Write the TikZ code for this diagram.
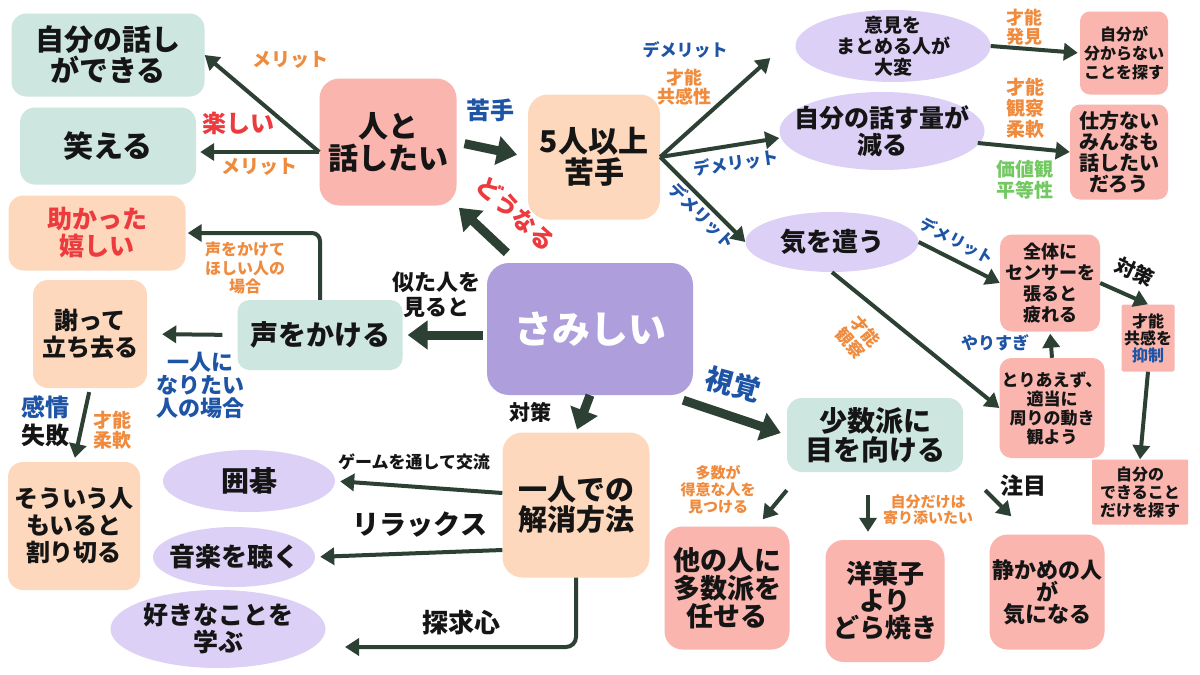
\documentclass[tikz,border=0pt]{standalone}
\usepackage{fontspec}
\setmainfont{Noto Sans CJK JP}
\usetikzlibrary{arrows.meta,shapes.geometric}

\definecolor{mintbg}{HTML}{CDE6DF}
\definecolor{peachbg}{HTML}{FDD8BC}
\definecolor{rosebg}{HTML}{F9B5AE}
\definecolor{lilacbg}{HTML}{DDD0F6}
\definecolor{centerbg}{HTML}{AE9FDC}
\definecolor{arrowc}{HTML}{2D4034}
\definecolor{orangec}{HTML}{F08A3C}
\definecolor{bluec}{HTML}{1E54A6}
\definecolor{redc}{HTML}{EC3A3E}
\definecolor{greenc}{HTML}{72C861}
\definecolor{inkc}{HTML}{151515}

\tikzset{
  fs/.style 2 args={font=\bfseries\fontsize{#1}{#2}\selectfont},
  tile/.style={rounded corners=15pt, align=center, inner sep=0pt, text=inkc},
  mint/.style={tile, fill=mintbg},
  peach/.style={tile, fill=peachbg},
  rose/.style={tile, fill=rosebg},
  lilac/.style={ellipse, fill=lilacbg, align=center, inner sep=0pt, text=inkc},
  lbl/.style={align=center, inner sep=0pt, text=inkc},
  conn/.style={draw=arrowc, line width=4pt, -{Triangle[length=14pt,width=17pt]}},
  bigconn/.style={draw=arrowc, line width=9pt, -{Triangle[length=20pt,width=28pt]}},
}

\begin{document}
\begin{tikzpicture}[x=1pt, y=-1pt]

\fill[white] (0,0) rectangle (1200,675);
\useasboundingbox (0,0) rectangle (1200,675);

\node [mint, fs={29}{31}, minimum width=193pt, minimum height=83pt] (jibun) at (108,55) {自分の話し\\ができる};
\node [mint, fs={30}{32}, minimum width=176pt, minimum height=77pt] (warau) at (108,146) {笑える};
\node [peach, fs={25}{27}, text=redc, minimum width=177pt, minimum height=75pt] (tasuka) at (97,233) {助かった\\嬉しい};
\node [peach, fs={24}{27}, minimum width=114pt, minimum height=108pt] (ayama) at (90,334) {謝って\\立ち去る};
\node [peach, fs={24}{27}, minimum width=132pt, minimum height=128pt] (souiu) at (74,526) {そういう人\\もいると\\割り切る};
\node [rose, fs={30}{32}, minimum width=137pt, minimum height=127pt, rounded corners=20pt] (hito) at (388,142) {人と\\話したい};
\node [peach, fs={30}{31}, minimum width=132pt, minimum height=125pt, rounded corners=20pt] (goninn) at (594,157) {5人以上\\苦手};

\node [lilac, fs={19}{21}, minimum width=195pt, minimum height=72pt, inner ysep=-6pt] (iken) at (893,46) {意見を\\まとめる人が\\大変};
\node [lilac, fs={25}{27}, minimum width=205pt, minimum height=78pt, inner xsep=-15pt] (ryou) at (882,131) {自分の話す量が\\減る};
\node [lilac, fs={26}{28}, minimum width=173pt, minimum height=60pt] (kizuka) at (832,242) {気を遣う};

\node [rose, fs={16}{19}, minimum width=88pt, minimum height=83pt, rounded corners=10pt] (jibuna) at (1124,53) {自分が\\分からない\\ことを探す};
\node [rose, fs={20}{21}, minimum width=98pt, minimum height=95pt, rounded corners=10pt] (shikata) at (1119,152) {仕方ない\\みんなも\\話したい\\だろう};
\node [rose, fs={18}{21}, minimum width=100pt, minimum height=97pt, rounded corners=12pt] (zentai) at (1050,283) {全体に\\センサーを\\張ると\\疲れる};
\node [rose, fs={16}{17}, minimum width=53pt, minimum height=67pt, rounded corners=2pt] (yokusei) at (1148,338) {才能\\共感を\\\textcolor{bluec}{抑制}};
\node [rose, fs={17}{19}, minimum width=105pt, minimum height=100pt, rounded corners=12pt] (toriaezu) at (1052,408) {とりあえず、\\適当に\\周りの動き\\観よう};
\node [rose, fs={16}{18}, minimum width=96pt, minimum height=65pt, rounded corners=1pt] (dekiru) at (1140,492) {自分の\\できること\\だけを探す};

\node [fill=centerbg, rounded corners=22pt, minimum width=206pt, minimum height=132pt, text=white, font=\bfseries\fontsize{38}{40}\selectfont] (samishii) at (590,329) {さみしい};
\node [mint, fs={28}{30}, minimum width=165pt, minimum height=70pt, rounded corners=12pt] (koe) at (320,335) {声をかける};
\node [mint, fs={28}{29}, minimum width=176pt, minimum height=74pt] (shousu) at (875,435) {少数派に\\目を向ける};
\node [peach, fs={29}{30}, minimum width=147pt, minimum height=145pt, rounded corners=20pt] (hitori) at (576,505) {一人での\\解消方法};

\node [lilac, fs={28}{30}, minimum width=172pt, minimum height=62pt] (igo) at (249,481) {囲碁};
\node [lilac, fs={26}{28}, minimum width=162pt, minimum height=60pt, inner xsep=-9pt] (ongaku) at (234,557) {音楽を聴く};
\node [lilac, fs={25}{27}, minimum width=215pt, minimum height=78pt] (manabu) at (218,629) {好きなことを\\学ぶ};

\node [rose, fs={27}{28}, minimum width=125pt, minimum height=123pt, rounded corners=18pt] (tanin) at (727,588) {他の人に\\多数派を\\任せる};
\node [rose, fs={26}{27}, minimum width=119pt, minimum height=122pt, rounded corners=18pt] (yougashi) at (885,601) {洋菓子\\より\\どら焼き};
\node [rose, fs={22}{22}, minimum width=115pt, minimum height=115pt, rounded corners=18pt] (shizuka) at (1047,592) {静かめの人\\が\\気になる};

\node [lbl, fs={19}{20}, text=orangec] (mer1) at (290,60) {メリット};
\node [lbl, fs={24}{26}, text=redc] (tano) at (238,123) {楽しい};
\node [lbl, fs={19}{20}, text=orangec] (mer2) at (259,167) {メリット};
\node [lbl, fs={24}{26}, text=bluec] (nigate) at (490,110) {苦手};
\node [lbl, fs={24}{26}, text=redc, rotate=-43] (dounaru) at (516,213) {どうなる};
\node [lbl, fs={17}{18}, text=bluec] (dem1) at (685,50) {デメリット};
\node [lbl, fs={18}{19}, text=orangec] (kyoukan) at (684,87) {才能\\共感性};
\node [lbl, fs={17}{18}, text=bluec, rotate=8] (dem2) at (736,163) {デメリット};
\node [lbl, fs={17}{18}, text=bluec, rotate=-45] (dem3) at (702,216) {デメリット};
\node [lbl, fs={18}{19}, text=orangec] (hakken) at (1024,27) {才能\\発見};
\node [lbl, fs={19}{21}, text=orangec] (kansatsu) at (1025,108) {才能\\観察\\柔軟};
\node [lbl, fs={19}{21}, text=greenc] (kachikan) at (1025,180) {価値観\\平等性};
\node [lbl, fs={16}{17}, text=bluec, rotate=-28] (dem4) at (957,241) {デメリット};
\node [lbl, fs={17}{19}, text=orangec, rotate=-50] (kansatsu2) at (858,337) {才能\\観察};
\node [lbl, fs={17}{18}, text=bluec] (yarisugi) at (995,343) {やりすぎ};
\node [lbl, fs={20}{22}, rotate=-25] (taisaku1) at (1135,272) {対策};
\node [lbl, fs={22}{25}] (nita) at (436,295) {似た人を\\見ると};
\node [lbl, fs={16}{18.5}, text=orangec] (koekake) at (245,268) {声をかけて\\ほしい人の\\場合};
\node [lbl, fs={22}{23}, text=bluec] (nari) at (200,385) {一人に\\なりたい\\人の場合};
\node [lbl, fs={24}{28}] (kanjou) at (45,421) {\textcolor{bluec}{感情}\\失敗};
\node [lbl, fs={19}{20}, text=orangec] (juunan) at (112,430) {才能\\柔軟};
\node [lbl, fs={21}{22}] (taisaku2) at (530,412) {対策};
\node [lbl, fs={28}{30}, text=bluec, rotate=-15] (shikaku) at (733,384) {視覚};
\node [lbl, fs={17}{18}] (game) at (414,462) {ゲームを通して交流};
\node [lbl, fs={27}{28}] (relax) at (420,525) {リラックス};
\node [lbl, fs={26}{28}] (tankyu) at (461,622) {探求心};
\node [lbl, fs={15}{17}, text=orangec] (tasuu) at (718,490) {多数が\\得意な人を\\見つける};
\node [lbl, fs={15}{15.5}, text=orangec] (yorisoi) at (928,510) {自分だけは\\寄り添いたい};
\node [lbl, fs={23}{24}] (chuumoku) at (1023,486) {注目};

\coordinate (hito-l) at ([yshift=-10pt]hito.west);
\coordinate (manabu-r) at (345,647);

\draw [conn] (hito-l) -- (jibun.east);
\draw [conn, shorten >=4pt] (hito-l) -- (warau.east |- hito-l);
\draw [bigconn, shorten <=8pt, shorten >=11pt] (hito.east) -- (goninn.west);
\draw [bigconn, shorten >=3pt] ([xshift=20pt,yshift=10pt]samishii.north west) -- (hito.south east);
\draw [bigconn, shorten <=4pt, shorten >=5pt] (samishii.west |- koe.east) -- (koe.east);
\draw [bigconn, shorten >=3pt] (samishii.south) -- (hitori.north);
\draw [bigconn] ([xshift=-10pt,yshift=-5pt]samishii.south east) -- ([xshift=-6pt,yshift=2pt]shousu.west);

\draw [conn] (goninn.east) -- ([xshift=-25pt,yshift=-12pt]iken.west);
\draw [conn] (goninn.east) -- ([yshift=-7pt]ryou.west);
\draw [conn] (goninn.east) -- (kizuka.west);
\draw [conn, shorten >=2pt] (iken.east) -- (jibuna.west);
\draw [conn] ([xshift=-7pt,yshift=-12pt]ryou.east) -- (shikata.west);
\draw [conn] (kizuka.east) -- (zentai.west);
\draw [conn] (kizuka.south) -- (toriaezu.west);
\draw [conn, shorten >=2pt] (toriaezu.north) -- (zentai.south);
\draw [conn] (zentai.east) -- (yokusei.north);
\draw [conn] (yokusei.south) -- (dekiru.north);

\draw [conn, rounded corners=8pt, shorten >=2pt] (koe.north) |- (tasuka.east);
\draw [conn, shorten <=15pt, shorten >=15pt] (koe.west) -- (ayama.east);
\draw [conn, shorten <=4pt, shorten >=4pt] (ayama.south) -- (souiu.north);

\draw [conn, shorten >=5pt] ([yshift=12pt]hitori.west) -- (igo.east);
\draw [conn, shorten >=5pt] ([yshift=-45pt]hitori.west) -- (ongaku.east);
\draw [conn, rounded corners=10pt] (hitori.south) |- (manabu-r);

\draw [conn] ([yshift=-18pt]shousu.south west) -- ([xshift=-27pt,yshift=7pt]tanin.north east);
\draw [conn] ([xshift=-7pt,yshift=-23pt]shousu.south) -- ([xshift=-17pt,yshift=8pt]yougashi.north);
\draw [conn] ([xshift=22pt,yshift=-18pt]shousu.south east) -- ([xshift=22pt,yshift=18pt]shizuka.north west);

\end{tikzpicture}
\end{document}
